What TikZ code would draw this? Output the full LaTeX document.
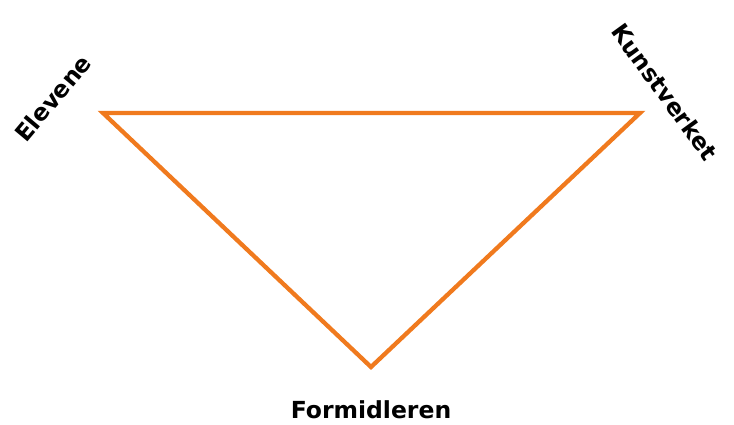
\documentclass[tikz,border=0pt]{standalone}
\usepackage{fontspec}
\setmainfont{DejaVu Sans}
\definecolor{triorange}{HTML}{F07A1E}
\begin{document}
\begin{tikzpicture}[x=1pt,y=-1pt,
  lbl/.style={font=\bfseries\fontsize{23.5}{28}\selectfont, inner sep=0pt, text=black},
  edge/.style={draw=triorange, line width=4.3pt, line join=miter}]
\useasboundingbox (0,0) rectangle (734,424);
\coordinate (a) at (103,113);
\coordinate (b) at (640,113);
\coordinate (c) at (371,367);
\draw[edge] (a) -- (b) -- (c) -- cycle;
\node[lbl, rotate=50] (el) at (53,98) {Elevene};
\node[lbl, rotate=-54] (ku) at (665,92) {Kunstverket};
\node[lbl] (fo) at (371,410) {Formidleren};
\end{tikzpicture}
\end{document}
